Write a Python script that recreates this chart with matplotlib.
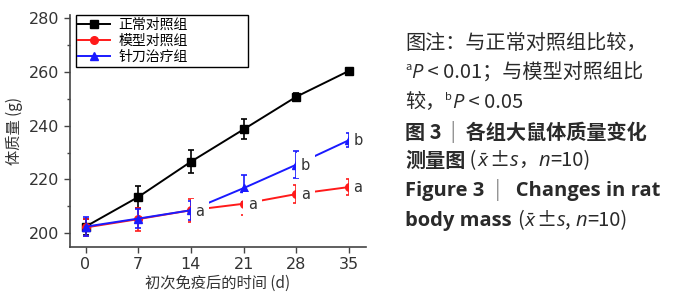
import numpy as np
import matplotlib.pyplot as plt
from matplotlib.lines import Line2D

plt.rcParams['font.family'] = ['Noto Sans CJK SC', 'DejaVu Sans']

# data
days = [0, 7, 14, 21, 28, 35]
normal_mean = [202.5, 213.5, 226.6, 238.6, 250.7, 260.3]
normal_sd = [3.0, 3.9, 4.2, 3.7, 1.3, 0.8]
model_mean = [202.2, 205.3, 208.6, 211.0, 214.6, 217.2]
model_sd = [3.0, 4.3, 4.3, 4.3, 3.5, 2.9]
acu_mean = [202.5, 205.5, 208.6, 216.8, 225.5, 234.6]
acu_sd = [3.5, 3.5, 3.5, 5.0, 5.0, 2.5]
labels = ['正常对照组', '模型对照组', '针刀治疗组']
# significance letters: (series, day index, letter)
sig_marks = [('acu', 2, 'a'), ('model', 3, 'a'), ('model', 4, 'a'), ('model', 5, 'a'),
             ('acu', 4, 'b'), ('acu', 5, 'b')]

fig = plt.figure(figsize=(6.9, 3.0), dpi=100)
ax = fig.add_axes([0.101, 0.177, 0.430, 0.773])

series = {'normal': (normal_mean, normal_sd, 'black', 's'),
          'model': (model_mean, model_sd, '#ff1a1a', 'o'),
          'acu': (acu_mean, acu_sd, '#1a1aff', '^')}
handles = []
for key, lab in zip(['normal', 'model', 'acu'], labels):
    m, s, c, mk = series[key]
    ax.errorbar(days, m, yerr=s, color=c, marker=mk, markersize=5.5, lw=1.4,
                capsize=2.5, elinewidth=1.2, capthick=1.2, zorder=2)
    handles.append(Line2D([], [], color=c, marker=mk, markersize=5.5, lw=1.4, label=lab))

for key, i, letter in sig_marks:
    m = series[key][0]
    ax.text(days[i] + 0.6, m[i] - 0.3, letter, fontsize=10.5, color='#333333',
            family='DejaVu Sans', va='center', ha='left', zorder=3,
            bbox=dict(facecolor='white', edgecolor='none', pad=3.5))

ax.set_xlim(-2.1, 37.3)
ax.set_ylim(195, 281)
ax.set_xticks(days)
ax.set_yticks([200, 220, 240, 260, 280])
ax.set_yticks([210, 230, 250, 270], minor=True)
ax.tick_params(axis='both', direction='out', length=4, width=1, colors='#444444',
               labelsize=11.5, labelcolor='#333333')
ax.tick_params(axis='y', which='minor', length=2.5, width=1, colors='#444444')
for lab in ax.get_xticklabels() + ax.get_yticklabels():
    lab.set_family('DejaVu Sans')
for sp in ['top', 'right']:
    ax.spines[sp].set_visible(False)
for sp in ['left', 'bottom']:
    ax.spines[sp].set_color('#444444')
    ax.spines[sp].set_linewidth(1.2)

ax.set_xlabel('初次免疫后的时间 (d)', fontsize=11, color='#333333', labelpad=2)
ax.set_ylabel('体质量 (g)', fontsize=11, color='#333333', labelpad=4)

leg = ax.legend(handles=handles, loc='upper left', bbox_to_anchor=(0.02, 0.79, 0.58, 0.21),
                mode='expand', borderaxespad=0, fancybox=False, edgecolor='black',
                framealpha=1, fontsize=10, handlelength=2.3, labelspacing=0.15,
                borderpad=0.2, handletextpad=0.6)
leg.get_frame().set_linewidth(1.0)

# caption on the right
tax = fig.add_axes([0, 0, 1, 1])
tax.axis('off')
tax.set_xlim(0, 1)
tax.set_ylim(0, 1)

FS = 14.5
cjk = ['Noto Sans CJK SC', 'DejaVu Sans']


def chain(parts, x, y):
    prev = None
    for txt, style in parts:
        kw = dict(fontsize=FS, color='#2a2a2a', family=cjk, va='bottom', ha='left')
        kw.update(style)
        dy = kw.pop('dy', 0)
        if prev is None:
            prev = tax.annotate(txt, xy=(x, y), xycoords='figure fraction',
                                xytext=(0, dy), textcoords='offset points', **kw)
        else:
            prev = tax.annotate(txt, xy=(1, 0), xycoords=prev,
                                xytext=(0, dy), textcoords='offset points', **kw)
    return prev


x0 = 405 / 690
line_y = [34, 63, 93, 123, 151, 181, 211]
ys = [1 - (v + 20) / 300 for v in line_y]
sup = dict(fontsize=8, dy=8)
ital = dict(family='Open Sans', style='italic')
bold = dict(weight='bold')

chain([('图注：与正常对照组比较，', {})], x0, ys[0])
chain([('a', sup), ('P', dict(ital, dy=-8)), (' < 0.01；与模型对照组比', {})], x0, ys[1])
chain([('较，', {}), ('b', sup), ('P', dict(ital, dy=-8)), (' < 0.05', {})], x0, ys[2])
chain([('图 3 ', bold), (' | ', dict(weight='light', color='#888888')),
       (' 各组大鼠体质量变化', bold)], x0, ys[3])
chain([('测量图', bold), (' (', {}), (r'$\bar{x}$', dict(family='DejaVu Sans', fontsize=12.5)),
       ('±', {}), ('s', ital), ('，', {}), ('n', ital), ('=10)', {})], x0, ys[4])
chain([('Figure 3  ', dict(bold, family='Open Sans')), ('|', dict(color='#888888')),
       ('   Changes in rat', dict(bold, family='Open Sans'))], x0, ys[5])
chain([('body mass ', dict(bold, family='Open Sans')), ('(', {}),
       (r'$\bar{x}$', dict(family='DejaVu Sans', fontsize=12.5)),
       ('±', {}), ('s', ital), (', ', {}), ('n', ital), ('=10)', {})], x0, ys[6])

fig.savefig('out.png', dpi=100)
